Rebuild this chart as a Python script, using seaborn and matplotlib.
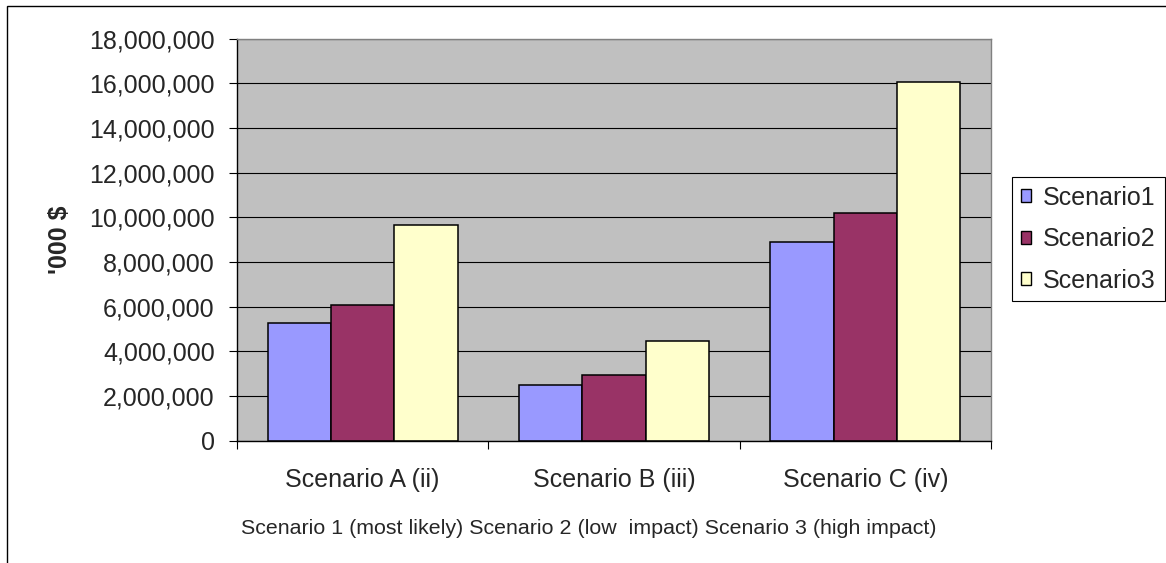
import matplotlib
matplotlib.use("Agg")
import matplotlib.pyplot as plt
from matplotlib.patches import Rectangle
from matplotlib.ticker import FuncFormatter, FixedLocator
import numpy as np
import pandas as pd
import seaborn as sns

# Values in '000 $
categories = ["Scenario A (ii)", "Scenario B (iii)", "Scenario C (iv)"]
series_names = ["Scenario1", "Scenario2", "Scenario3"]
scenario1 = [5_270_000, 2_470_000, 8_900_000]
scenario2 = [6_050_000, 2_940_000, 10_170_000]
scenario3 = [9_650_000, 4_440_000, 16_060_000]
y_ticks = list(range(0, 18_000_001, 2_000_000))
footnote = "Scenario 1 (most likely) Scenario 2 (low  impact) Scenario 3 (high impact)"

colors = ["#9999FF", "#993366", "#FFFFCC"]

df = pd.DataFrame({
    "category": categories * 3,
    "series": [s for s in series_names for _ in categories],
    "value": scenario1 + scenario2 + scenario3,
})

sns.set_style("white")
plt.rcParams["font.family"] = ["Liberation Sans", "DejaVu Sans"]

W, H = 1166, 563
fig = plt.figure(figsize=(W / 100, H / 100), dpi=100)
ax = fig.add_axes([237 / W, 1 - 440.5 / H, (991 - 237) / W, (440.5 - 38.7) / H])

sns.barplot(data=df, x="category", y="value", hue="series", order=categories,
            hue_order=series_names, palette=colors, edgecolor="black",
            linewidth=1.1, width=0.756, gap=0, errorbar=None, saturation=1,
            ax=ax)

ax.set_facecolor("#C0C0C0")
ax.set_xlim(-0.5, 2.5)
ax.set_ylim(0, 18_000_000)
ax.set_yticks(y_ticks)
ax.yaxis.set_major_formatter(FuncFormatter(lambda v, p: f"{int(v):,}"))
ax.grid(axis="y", color="black", linewidth=0.8)
ax.grid(axis="x", visible=False)
ax.set_axisbelow(True)

ax.tick_params(axis="y", which="major", direction="out", length=6, width=0.8,
               color="black", left=True, labelsize=18, pad=10)
ax.tick_params(axis="x", which="major", length=0, labelsize=18, pad=20)
ax.xaxis.set_minor_locator(FixedLocator([-0.5, 0.5, 1.5, 2.5]))
ax.tick_params(axis="x", which="minor", direction="out", length=6, width=0.8,
               color="black", bottom=True)

for side in ("left", "bottom"):
    ax.spines[side].set_color("black")
    ax.spines[side].set_linewidth(1.0)
for side in ("top", "right"):
    ax.spines[side].set_color("#808080")
    ax.spines[side].set_linewidth(1.0)

ax.set_xlabel("")
ax.set_ylabel("'000 $", fontsize=18, fontweight="bold")
ax.yaxis.set_label_coords(-0.219, 0.5)

handles, labels = ax.get_legend_handles_labels()
for h in handles:
    h.set_edgecolor("black")
    h.set_linewidth(1.0)
ax.legend(handles, labels, loc="upper left",
          bbox_to_anchor=(1012 / W, 1 - 177 / H), bbox_transform=fig.transFigure,
          borderaxespad=0, frameon=True, fancybox=False, shadow=False,
          edgecolor="black", framealpha=1, fontsize=18,
          handlelength=0.4, handleheight=0.4, handletextpad=0.5,
          labelspacing=0.7, borderpad=0.35)
ax.get_legend().get_frame().set_linewidth(0.8)

fig.text(588.5 / W, 1 - 528 / H, footnote, ha="center", va="center", fontsize=15.4)

# chart-area frame
fig.add_artist(Rectangle((7 / W, -0.2), 1.2, 1.2 - 6 / H, transform=fig.transFigure,
                         fill=False, edgecolor="black", linewidth=1.0, clip_on=False))

fig.savefig("out.png", dpi=100, facecolor="white")
